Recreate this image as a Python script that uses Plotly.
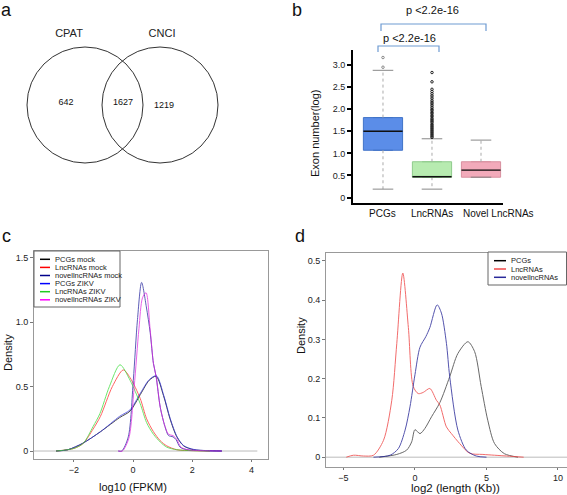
import plotly.graph_objects as go

# ---------------- DATA ----------------
# Panel a: Venn counts
venn_sets = ["CPAT", "CNCI"]
venn_counts = [642, 1627, 1219]  # CPAT only, both, CNCI only

# Panel b: exon number (log) box stats
box_groups = ["PCGs", "LncRNAs", "Novel LncRNAs"]
box_q1 = [1.07, 0.46, 0.46]
box_median = [1.50, 0.47, 0.62]
box_q3 = [1.81, 0.81, 0.81]
box_low = [0.19, 0.19, 0.46]
box_high = [2.88, 1.33, 1.30]
pcg_outliers = [2.95, 3.17]
lnc_outliers = [1.36, 1.39, 1.42, 1.45, 1.48, 1.51, 1.54, 1.57, 1.60, 1.63, 1.66, 1.70,
                1.73, 1.76, 1.79, 1.83, 1.86, 1.90, 1.93, 1.97, 2.00, 2.04, 2.08, 2.12,
                2.16, 2.20, 2.25, 2.30, 2.35, 2.40, 2.45, 2.62, 2.83]
pvalue_text = "p <2.2e-16"

# Panel c: density of log10(FPKM)
c_names = ["PCGs mock", "LncRNAs mock", "novellncRNAs mock",
           "PCGs ZIKV", "LncRNAs ZIKV", "novellncRNAs ZIKV"]
pcg_mock_x = [-2.6, -2.2, -1.7, -1.1, -0.45, -0.1, 0.25, 0.55, 0.78, 1.03, 1.25, 1.48, 1.71, 2.05, 2.5, 3.0]
pcg_mock_y = [0.0, 0.01, 0.06, 0.15, 0.26, 0.31, 0.44, 0.55, 0.58, 0.43, 0.25, 0.11, 0.04, 0.01, 0.003, 0.0]
pcg_zikv_x = [-2.6, -2.2, -1.7, -1.1, -0.45, -0.1, 0.25, 0.55, 0.79, 1.04, 1.26, 1.49, 1.72, 2.06, 2.5, 3.0]
pcg_zikv_y = [0.0, 0.01, 0.06, 0.15, 0.27, 0.32, 0.45, 0.555, 0.585, 0.43, 0.25, 0.11, 0.04, 0.012, 0.003, 0.0]
lnc_mock_x = [-2.6, -2.0, -1.68, -1.35, -1.1, -0.7, -0.33, -0.1, 0.24, 0.46, 0.69, 0.92, 1.14, 1.48, 2.0, 2.6]
lnc_mock_y = [0.0, 0.02, 0.06, 0.17, 0.27, 0.50, 0.63, 0.57, 0.41, 0.25, 0.15, 0.08, 0.04, 0.01, 0.003, 0.0]
lnc_zikv_x = [-2.6, -2.0, -1.68, -1.35, -1.12, -0.8, -0.44, -0.1, 0.24, 0.46, 0.69, 0.92, 1.14, 1.48, 2.0, 2.6]
lnc_zikv_y = [0.0, 0.02, 0.06, 0.19, 0.29, 0.50, 0.67, 0.55, 0.37, 0.22, 0.13, 0.07, 0.03, 0.01, 0.003, 0.0]
nov_mock_x = [-0.5, -0.38, -0.16, 0.01, 0.15, 0.29, 0.45, 0.58, 0.69, 0.78, 0.92, 1.08, 1.2, 1.35, 1.45, 1.59, 1.82, 2.3, 3.0]
nov_mock_y = [0.0, 0.0, 0.11, 0.55, 1.02, 1.31, 1.12, 0.92, 0.68, 0.58, 0.34, 0.19, 0.12, 0.11, 0.09, 0.03, 0.01, 0.003, 0.0]
nov_zikv_x = [-0.5, -0.36, -0.14, 0.04, 0.2, 0.32, 0.44, 0.58, 0.69, 0.78, 0.92, 1.08, 1.2, 1.35, 1.48, 1.62, 1.85, 2.3, 3.0]
nov_zikv_y = [0.0, 0.0, 0.10, 0.50, 0.95, 1.19, 1.23, 0.94, 0.68, 0.58, 0.34, 0.19, 0.13, 0.12, 0.09, 0.03, 0.01, 0.003, 0.0]

# Panel d: density of log2(length (Kb))
d_names = ["PCGs", "LncRNAs", "novellncRNAs"]
d_pcg_x = [-2.5, -1.27, -0.58, -0.23, 0.0, 0.35, 0.69, 1.16, 1.74, 2.43, 3.0, 3.7, 4.17, 4.63, 5.09, 5.56, 6.25, 7.2]
d_pcg_y = [0.0, 0.007, 0.018, 0.039, 0.07, 0.06, 0.073, 0.103, 0.139, 0.205, 0.264, 0.294, 0.269, 0.18, 0.094, 0.035, 0.009, 0.0]
d_lnc_x = [-4.8, -4.3, -3.6, -2.9, -2.2, -1.62, -1.27, -0.85, -0.46, -0.12, 0.23, 0.58, 1.04, 1.5,
           1.74, 2.2, 2.55, 3.12, 3.82, 4.75, 6.4, 7.6]
d_lnc_y = [0.0, 0.005, 0.003, 0.005, 0.043, 0.145, 0.29, 0.469, 0.33, 0.18, 0.162, 0.165, 0.175, 0.145,
           0.133, 0.077, 0.06, 0.035, 0.01, 0.007, 0.003, 0.0]
d_nov_x = [-2.9, -1.74, -1.16, -0.69, -0.35, 0.0, 0.35, 0.76, 1.04, 1.55, 1.85, 2.2, 2.43, 3.0, 3.59, 4.28, 5.0]
d_nov_y = [0.0, 0.005, 0.022, 0.069, 0.128, 0.21, 0.28, 0.307, 0.33, 0.388, 0.367, 0.29, 0.205, 0.069, 0.018, 0.003, 0.0]

# ---------------- LAYOUT HELPERS ----------------
W, H = 567, 495
FONT = "Liberation Sans, Arial, sans-serif"
def fx(px):
    return px / W
def fy(py):
    return 1 - py / H

fig = go.Figure()

# ---------------- Panel a: Venn ----------------
venn_r = 58
venn_cx = [85, 160]
venn_cy = 105
shapes = []
for cx in venn_cx:
    shapes.append(dict(type="circle", xref="x", yref="y",
                       x0=cx - venn_r, x1=cx + venn_r, y0=venn_cy - venn_r, y1=venn_cy + venn_r,
                       line=dict(color="#333", width=1)))
fig.add_trace(go.Scatter(x=[69, 162], y=[34, 34], text=venn_sets, mode="text",
                         textfont=dict(size=11, color="#222", family=FONT),
                         xaxis="x", yaxis="y", showlegend=False, hoverinfo="skip"))
fig.add_trace(go.Scatter(x=[66, 123, 164], y=[103, 103, 105.5], text=[str(v) for v in venn_counts],
                         mode="text", textfont=dict(size=9, color="#111", family=FONT),
                         xaxis="x", yaxis="y", showlegend=False, hoverinfo="skip"))

# ---------------- Panel b: boxes ----------------
fills = ["#5B8DE8", "#B7EBB0", "#F2AABA"]
edges = ["#4173C8", "#8FCB8C", "#D8909F"]
bw = 0.80
for i, g in enumerate(box_groups):
    # whiskers (dotted)
    fig.add_trace(go.Scatter(x=[i, i, None, i, i],
                             y=[box_q3[i], box_high[i], None, box_q1[i], box_low[i]],
                             mode="lines", line=dict(color="#aaaaaa", width=1, dash="dot"),
                             xaxis="x2", yaxis="y2", showlegend=False, hoverinfo="skip"))
    # whisker caps
    fig.add_trace(go.Scatter(x=[i - 0.21, i + 0.21, None, i - 0.21, i + 0.21],
                             y=[box_high[i], box_high[i], None, box_low[i], box_low[i]],
                             mode="lines", line=dict(color="#888888", width=1),
                             xaxis="x2", yaxis="y2", showlegend=False, hoverinfo="skip"))
    fig.add_trace(go.Box(x=[i], q1=[box_q1[i]], median=[box_median[i]], q3=[box_q3[i]],
                         lowerfence=[box_q1[i]], upperfence=[box_q3[i]],
                         width=bw, fillcolor=fills[i], line=dict(color=edges[i], width=1),
                         boxpoints=False, xaxis="x2", yaxis="y2", showlegend=False, hoverinfo="skip"))
    fig.add_trace(go.Scatter(x=[i - bw / 2, i + bw / 2], y=[box_median[i], box_median[i]],
                             mode="lines", line=dict(color="#111", width=1.3),
                             xaxis="x2", yaxis="y2", showlegend=False, hoverinfo="skip"))

fig.add_trace(go.Scatter(x=[0] * len(pcg_outliers), y=pcg_outliers, mode="markers",
                         marker=dict(symbol="circle-open", size=2.5, color="#888", line=dict(width=1)),
                         xaxis="x2", yaxis="y2", showlegend=False, hoverinfo="skip"))
fig.add_trace(go.Scatter(x=[1] * len(lnc_outliers), y=lnc_outliers, mode="markers",
                         marker=dict(symbol="circle-open", size=2.5, color="#222", line=dict(width=1)),
                         xaxis="x2", yaxis="y2", showlegend=False, hoverinfo="skip"))

# ---------------- Panel c: densities ----------------
c_series = [
    (pcg_mock_x, pcg_mock_y, "#000000"),
    (lnc_mock_x, lnc_mock_y, "#FF2020"),
    (nov_mock_x, nov_mock_y, "#1A1A9A"),
    (pcg_zikv_x, pcg_zikv_y, "#3030E0"),
    (lnc_zikv_x, lnc_zikv_y, "#30DD30"),
    (nov_zikv_x, nov_zikv_y, "#E020E0"),
]
for (xs, ys, col), nm in zip(c_series, c_names):
    fig.add_trace(go.Scatter(x=xs, y=ys, mode="lines", name=nm,
                             line=dict(color=col, width=1, shape="spline", smoothing=0.8),
                             opacity=0.7, xaxis="x3", yaxis="y3", showlegend=False, hoverinfo="skip"))

# ---------------- Panel d: densities ----------------
d_series = [
    (d_pcg_x, d_pcg_y, "#444444"),
    (d_lnc_x, d_lnc_y, "#F04848"),
    (d_nov_x, d_nov_y, "#2A2A9A"),
]
for (xs, ys, col), nm in zip(d_series, d_names):
    fig.add_trace(go.Scatter(x=xs, y=ys, mode="lines", name=nm,
                             line=dict(color=col, width=1, shape="spline", smoothing=0.8),
                             opacity=0.8, xaxis="x4", yaxis="y4", showlegend=False, hoverinfo="skip"))

# zero lines
shapes.append(dict(type="line", xref="x3", yref="y3", x0=-3.345, x1=4.2, y0=0, y1=0,
                   line=dict(color="#bbbbbb", width=1), layer="below"))
shapes.append(dict(type="line", xref="x4 domain", yref="y4", x0=0, x1=1, y0=0, y1=0,
                   line=dict(color="#bbbbbb", width=1), layer="below"))

# ---------------- Annotations ----------------
ann = []
def text(px, py, s, size, xanchor="center", yanchor="middle", angle=0, color="#111"):
    ann.append(dict(x=fx(px), y=fy(py), xref="paper", yref="paper", text=s, showarrow=False,
                    xanchor=xanchor, yanchor=yanchor, textangle=angle,
                    font=dict(size=size, color=color, family=FONT)))

# panel letters
text(6, 10, "a", 18)
text(297, 10, "b", 18)
text(6, 236, "c", 18)
text(300, 236, "d", 18)

# panel b: tick labels, axis title, p-values and brackets
for i, (g, sh) in enumerate(zip(box_groups, [0, 0, 17])):
    ann.append(dict(x=i, y=fy(213), xref="x2", yref="paper", text=g, showarrow=False,
                    xshift=sh, xanchor="center", yanchor="middle",
                    font=dict(size=10, color="#111", family=FONT)))
text(315, 134, "Exon number(log)", 11, angle=-90)
text(432, 10, pvalue_text, 11)
text(409, 38, pvalue_text, 11)
brc = "#6E9BD2"
for (xl, xr, yt, yb) in [(381, 486, 24, 31), (378, 439, 46, 52)]:
    shapes.append(dict(type="path", xref="paper", yref="paper",
                       path=f"M {fx(xl)} {fy(yb)} L {fx(xl)} {fy(yt)} L {fx(xr)} {fy(yt)} L {fx(xr)} {fy(yb)}",
                       line=dict(color=brc, width=1.2)))

# panel c titles
text(133, 487, "log10 (FPKM)", 11)
text(8, 353, "Density", 11, angle=-90)
# panel d titles
text(455, 495, "log2 (length (Kb))", 11.5, yanchor="bottom")
ann[-1]["yshift"] = -1
text(301, 336, "Density", 11, angle=-90)

# legends (manual)
leg_c_cols = ["#000000", "#FF0000", "#00008B", "#0000FF", "#22CC22", "#FF00FF"]
shapes.append(dict(type="rect", xref="paper", yref="paper", x0=fx(34), x1=fx(120), y0=fy(307), y1=fy(251),
                   line=dict(color="#666", width=1), fillcolor="white"))
for k, (nm, col) in enumerate(zip(c_names, leg_c_cols)):
    yy = 259.3 + k * 8.1
    shapes.append(dict(type="line", xref="paper", yref="paper", x0=fx(40), x1=fx(50), y0=fy(yy), y1=fy(yy),
                       line=dict(color=col, width=1.5)))
    text(53, yy, nm, 7.5, xanchor="left", color="#222")

leg_d_cols = ["#000000", "#F04848", "#2A2A9A"]
shapes.append(dict(type="rect", xref="paper", yref="paper", x0=fx(488), x1=fx(566.5), y0=fy(285), y1=fy(252),
                   line=dict(color="#666", width=1), fillcolor="white"))
for k, (nm, col) in enumerate(zip(d_names, leg_d_cols)):
    yy = 260.7 + k * 8.3
    shapes.append(dict(type="line", xref="paper", yref="paper", x0=fx(494), x1=fx(506), y0=fy(yy), y1=fy(yy),
                       line=dict(color=col, width=1.5)))
    text(509, yy, nm, 7.5, xanchor="left", color="#222")

tickfont = dict(size=9, color="#222", family=FONT)
frame = dict(showline=True, mirror=True, linecolor="#999", linewidth=1, ticks="outside", ticklen=3,
             tickcolor="#777", showgrid=False, zeroline=False, tickfont=tickfont, automargin=False)
frame_x = dict(frame, ticklen=2)

fig.update_layout(
    width=W, height=H, margin=dict(l=0, r=0, t=0, b=0, autoexpand=False),
    paper_bgcolor="white", plot_bgcolor="white", showlegend=False,
    font=dict(family=FONT),
    xaxis=dict(domain=[0, fx(290)], range=[0, 290], visible=False, anchor="y", automargin=False),
    yaxis=dict(domain=[fy(240), 1], range=[240, 0], visible=False, anchor="x", automargin=False),
    xaxis2=dict(domain=[fx(353), fx(503)], range=[-0.612, 2.449], showline=True, linecolor="black",
                linewidth=2, showticklabels=False, ticks="", showgrid=False, zeroline=False, anchor="y2",
                automargin=False),
    yaxis2=dict(domain=[fy(203), fy(50)], range=[-0.124, 3.34],
                tickvals=[0, 0.5, 1.0, 1.5, 2.0, 2.5, 3.0],
                ticktext=["0", "0.5", "1.0", "1.5", "2.0", "2.5", "3.0"],
                ticks="outside", ticklen=4, tickwidth=1.5, tickcolor="black",
                showline=True, linecolor="black", linewidth=2, showgrid=False, zeroline=False,
                tickfont=tickfont, anchor="x2", automargin=False),
    xaxis3=dict(domain=[fx(34), fx(268)], range=[-3.345, 4.56], tickvals=[-2, 0, 2, 4], anchor="y3", **frame_x),
    yaxis3=dict(domain=[fy(459), fy(251)], range=[-0.062, 1.554], tickvals=[0, 0.5, 1.0, 1.5],
                ticktext=["0", "0.5", "1.0", "1.5"], anchor="x3", **frame),
    xaxis4=dict(domain=[fx(326), 1], range=[-6.22, 10.63], tickvals=[-5, 0, 5, 10], anchor="y4", **frame_x),
    yaxis4=dict(domain=[fy(467), fy(253)], range=[-0.025, 0.52], tickvals=[0, 0.1, 0.2, 0.3, 0.4, 0.5],
                ticktext=["0", "0.1", "0.2", "0.3", "0.4", "0.5"], anchor="x4", **frame),
    shapes=shapes, annotations=ann,
)

fig.write_html("out.html", config={"displayModeBar": False},
               post_script="document.body.style.margin='0';document.body.style.overflow='hidden';")
